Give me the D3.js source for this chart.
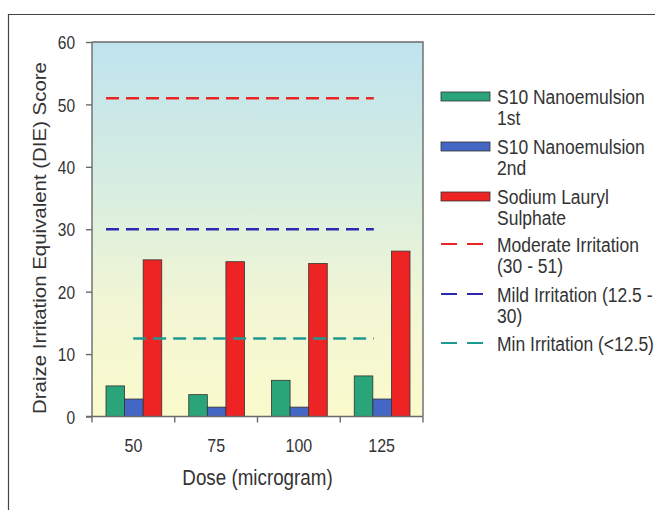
<!DOCTYPE html>
<html><head><meta charset="utf-8">
<script src="https://cdn.jsdelivr.net/npm/d3@7"></script>
<style>body{margin:0;background:#fff;} text{font-family:"Liberation Sans",Arial,sans-serif;}</style>
</head><body>
<svg id="c" width="655" height="510"></svg>
<script>
const doses = ["50","75","100","125"];
const seriesNames = ["S10 Nanoemulsion 1st","S10 Nanoemulsion 2nd","Sodium Lauryl Sulphate"];
const nano1st = [4.9, 3.5, 5.8, 6.5];
const nano2nd = [2.8, 1.5, 1.5, 2.8];
const sls = [25.1, 24.8, 24.5, 26.5];
const thresholdNames = ["Moderate Irritation (30 - 51)","Mild Irritation (12.5 - 30)","Min Irritation (<12.5)"];
const thresholdValues = [51, 30, 12.5];
const yTicks = [0,10,20,30,40,50,60];

const colors = ["#2aa57a","#4466c4","#ee2424"];
const lineColors = ["#ee2424","#2a2ab0","#1f9a90"];
const SY = 1.2; // vertical stretch of glyphs in the reference

const svg = d3.select("#c");
svg.append("path").attr("d","M8.5,510 L8.5,14.5 L655,14.5").attr("fill","none").attr("stroke","#444").attr("stroke-width",1.2);

const L=92, R=423, T=42, B=416.5;
const x0 = d3.scaleBand().domain(doses).range([L,R]).padding(0);
const x1 = d3.scaleBand().domain([0,1,2]).range([14, x0.bandwidth()-13]).padding(0);
const y = d3.scaleLinear().domain([0,60]).range([B,T]);

const defs = svg.append("defs");
const g = defs.append("linearGradient").attr("id","bg").attr("x1",0).attr("y1",0).attr("x2",0).attr("y2",1);
[["0%","#bfe3ee"],["40%","#d8eee0"],["70%","#f2f6d4"],["100%","#fafacc"]].forEach(s=>
  g.append("stop").attr("offset",s[0]).attr("stop-color",s[1]));
svg.append("rect").attr("x",L).attr("y",T).attr("width",R-L).attr("height",B-T).attr("fill","url(#bg)");
svg.append("path").attr("d",`M${L},${T} L${R},${T} L${R},${B}`).attr("fill","none").attr("stroke","#6a6a6a").attr("stroke-width",1.4);

const data = [nano1st, nano2nd, sls];
doses.forEach((d,i)=>{
  data.forEach((s,j)=>{
    svg.append("rect")
      .attr("x", x0(d)+x1(j)).attr("width", x1.bandwidth())
      .attr("y", y(s[i])).attr("height", B-y(s[i]))
      .attr("fill", colors[j]).attr("stroke","#333").attr("stroke-width",0.8);
  });
});

const lineStart = [x0("50")+x1(0), x0("50")+x1(0), x0("50")+x1(2)-10];
const lineEnd = x0("125")+x1(1)+1;
thresholdValues.forEach((v,k)=>{
  svg.append("line").attr("x1", lineStart[k]).attr("x2", lineEnd)
    .attr("y1", y(v)).attr("y2", y(v))
    .attr("stroke", lineColors[k]).attr("stroke-width",2.4).attr("stroke-dasharray","13,7");
});

// y axis
const ya = svg.append("g").attr("transform",`translate(${L},0)`)
  .call(d3.axisLeft(y).tickValues(yTicks).tickSize(6).tickPadding(11));
ya.selectAll("text").attr("font-size",15.5).attr("fill","#333").attr("font-family","Liberation Sans, Arial, sans-serif")
  .attr("dy",null).attr("y",0).attr("transform",`translate(0,${0.358*15.5*SY}) scale(1,${SY})`);
ya.selectAll("line,path").attr("stroke","#6a6a6a").attr("stroke-width",1.4);
ya.select(".domain").attr("d",`M0,${B}V${T}`);

// x axis
const xa = svg.append("g").attr("transform",`translate(0,${B})`)
  .call(d3.axisBottom(x0).tickSize(0).tickPadding(0));
xa.selectAll("text").attr("font-size",16).attr("fill","#333").attr("font-family","Liberation Sans, Arial, sans-serif")
  .attr("dy",null).attr("y",0).attr("transform",`translate(0,35) scale(1,${SY})`);
xa.selectAll("path").attr("stroke","#6a6a6a").attr("stroke-width",1.4).attr("d",`M${L-6},0H${R}`);
doses.concat(["end"]).forEach((d,i)=>{
  const xx = i<doses.length ? x0(d) : R;
  svg.append("line").attr("x1",xx).attr("x2",xx).attr("y1",B).attr("y2",B+6).attr("stroke","#6a6a6a").attr("stroke-width",1.4);
});

svg.append("text").attr("transform",`translate(${(L+R)/2},485) scale(1,${SY})`).attr("text-anchor","middle")
  .attr("font-size",18.8).attr("fill","#333").text("Dose (microgram)");
svg.append("text").attr("transform",`translate(46,238) rotate(-90)`).attr("text-anchor","middle")
  .attr("font-size",18).attr("fill","#333").attr("textLength",352).attr("lengthAdjust","spacingAndGlyphs")
  .text("Draize Irritation Equivalent (DIE) Score");

// legend
const legendLines = [
  ["S10 Nanoemulsion","1st"],
  ["S10 Nanoemulsion","2nd"],
  ["Sodium Lauryl","Sulphate"],
  ["Moderate Irritation","(30 - 51)"],
  ["Mild Irritation (12.5 -","30)"],
  ["Min Irritation (<12.5)"]
];
const legY = [96,146,196,244,294,343];
const LF = 17.5;
legendLines.forEach((ls,k)=>{
  const yy = legY[k];
  if(k<3){
    svg.append("rect").attr("x",441).attr("y",yy-4).attr("width",49).attr("height",9)
      .attr("fill",colors[k]).attr("stroke","#333").attr("stroke-width",0.8);
  } else {
    svg.append("line").attr("x1",441).attr("x2",484).attr("y1",yy).attr("y2",yy)
      .attr("stroke",lineColors[k-3]).attr("stroke-width",2).attr("stroke-dasharray","16,10");
  }
  ls.forEach((t,m)=>{
    svg.append("text").attr("transform",`translate(497,${yy+0.358*LF*SY+m*21.5}) scale(1,${SY})`)
      .attr("font-size",LF).attr("fill","#333").text(t);
  });
});
</script>
</body></html>
